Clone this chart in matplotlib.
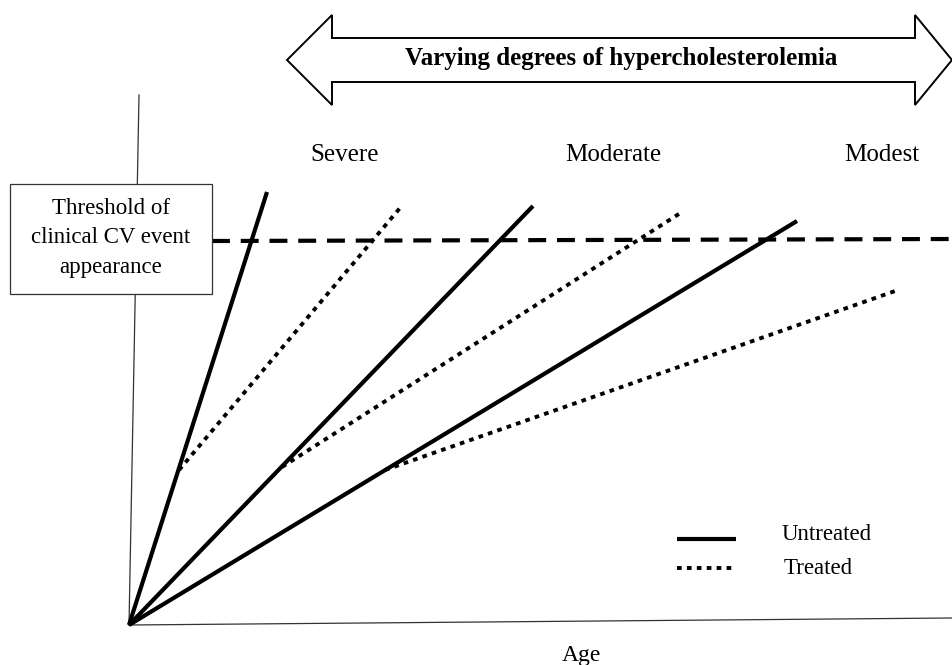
import matplotlib
matplotlib.use("Agg")
import matplotlib.pyplot as plt
from matplotlib.patches import Polygon, Rectangle

plt.rcParams['font.family'] = ['Liberation Serif', 'DejaVu Serif']

# ---- schematic data (age units on x, atherosclerotic burden on y) ----
severity = ["Severe", "Moderate", "Modest"]
untreated_end_age = [138, 404, 668]
untreated_end_level = [433, 419, 404]
treated_start_age = [50, 153, 256]
treated_start_level = [155, 158, 155]
treated_end_age = [271, 553, 769]
treated_end_level = [417, 413, 335]
severity_label_age = [216, 484, 753]
threshold_level = 384
box_lines = ["Threshold of", "clinical CV event", "appearance"]
origin = (0, 0)
yaxis_top = (10, 530)
xaxis_end = (823, 7)

DOT = (0, (1.2, 1.35))

fig = plt.figure(figsize=(9.52, 6.65), dpi=100)
ax = fig.add_axes([0, 0, 1, 1])
ax.set_xlim(-129, 823)
ax.set_ylim(-40, 625)
ax.axis('off')

# axes
ax.plot([origin[0], yaxis_top[0]], [origin[1], yaxis_top[1]], color='#333333', lw=0.9, zorder=1)
ax.plot([origin[0], xaxis_end[0]], [origin[1], xaxis_end[1]], color='#333333', lw=0.9, zorder=1)

# untreated lines
for xe, ye in zip(untreated_end_age, untreated_end_level):
    ax.plot([origin[0], xe], [origin[1], ye], color='black', lw=3.0,
            solid_capstyle='butt', zorder=3)

# treated lines
for xs, ys, xe, ye in zip(treated_start_age, treated_start_level, treated_end_age, treated_end_level):
    ax.plot([xs, xe], [ys, ye], color='black', lw=2.8, linestyle=DOT,
            dash_capstyle='butt', zorder=3)

# threshold line
ax.plot([83, 823], [threshold_level, threshold_level + 2], color='black', lw=3,
        linestyle=(0, (4.3, 2.6)), dash_capstyle='butt', zorder=2)

# threshold box
ax.add_patch(Rectangle((-119, 331), 202, 110, facecolor='white', edgecolor='#333333',
                       lw=0.9, zorder=4))
for i, line in enumerate(box_lines):
    ax.text(-18, 417 - 29.5 * i, line, ha='center', va='center', fontsize=16.5, zorder=5)

# double-headed block arrow
arrow_pts = [(158, 565), (203, 610), (203, 587), (786, 587), (786, 610), (823, 565),
             (786, 520), (786, 543), (203, 543), (203, 520)]
ax.add_patch(Polygon(arrow_pts, closed=True, facecolor='white', edgecolor='black',
                     lw=1.4, joinstyle='miter', zorder=2))
ax.text(492, 566, "Varying degrees of hypercholesterolemia", ha='center', va='center',
        fontsize=18, fontweight='bold', zorder=3)

# severity labels
for lab, xa in zip(severity, severity_label_age):
    ax.text(xa, 470, lab, ha='center', va='center', fontsize=18)

# legend
ax.plot([548, 607], [86, 86], color='black', lw=3.0, solid_capstyle='butt')
ax.plot([548, 607], [57, 57], color='black', lw=2.8, linestyle=DOT,
        dash_capstyle='butt')
ax.text(653, 90, "Untreated", ha='left', va='center', fontsize=16.5)
ax.text(655, 57, "Treated", ha='left', va='center', fontsize=16.5)

# x-axis label
ax.text(452, -30, "Age", ha='center', va='center', fontsize=17)

fig.savefig("out.png", dpi=100)
